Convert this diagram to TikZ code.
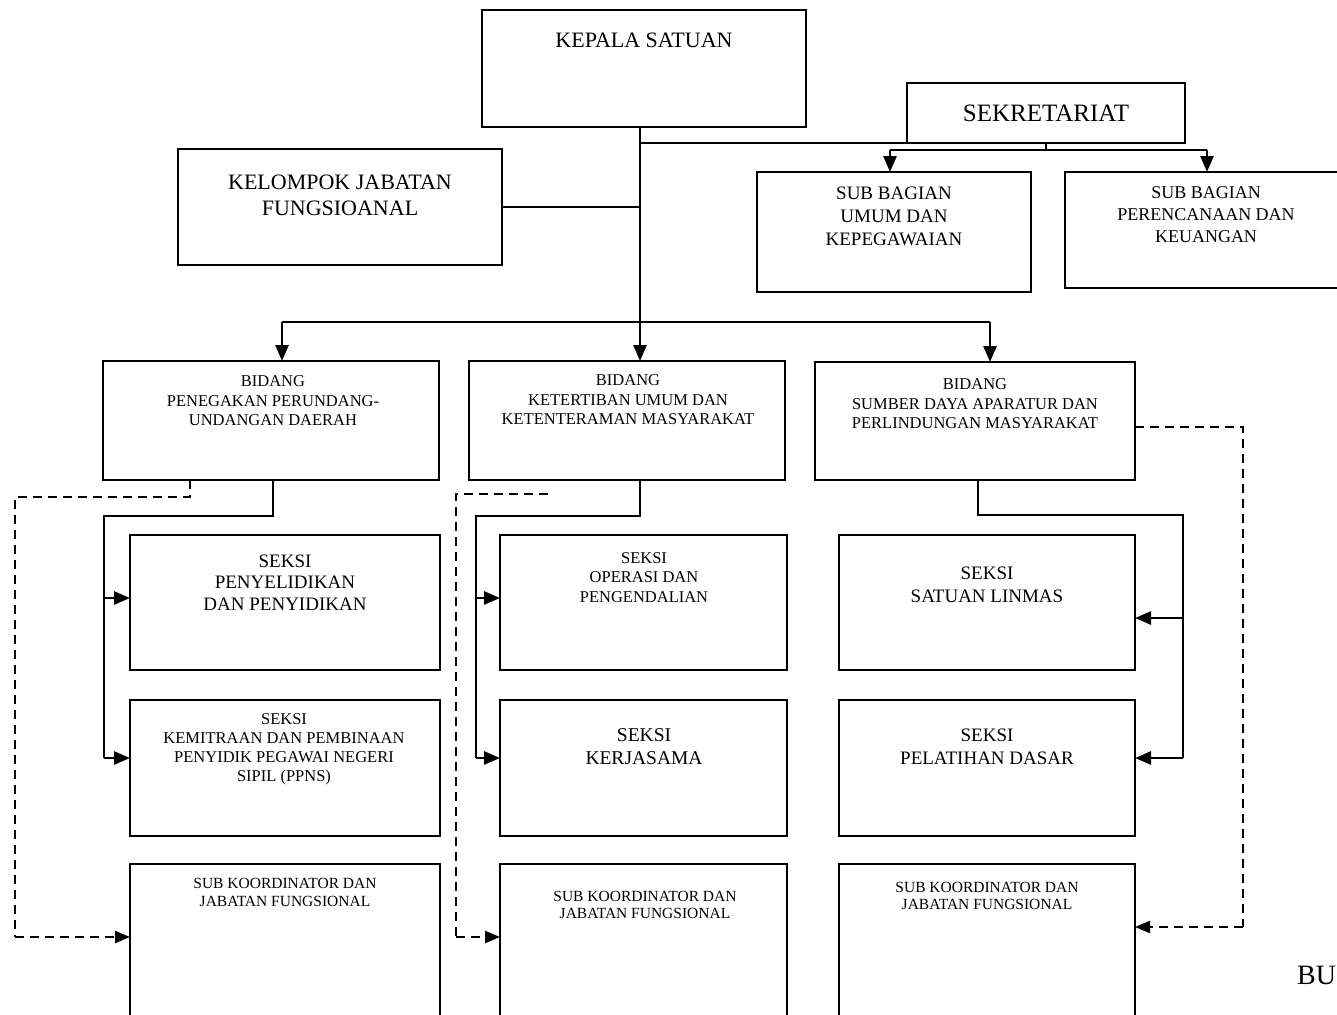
\documentclass[tikz,border=0pt]{standalone}
\usepackage{fontspec}
\setmainfont{Liberation Serif}
\usetikzlibrary{arrows.meta}
\newcommand\fsz[2]{\fontsize{#1}{#2}\selectfont}
\tikzset{
  box/.style={draw, line width=2.4pt, inner sep=0pt, outer sep=0pt},
  lbl/.style={align=center, inner sep=0pt},
  link/.style={line width=2.8pt},
  arr/.style={link, -{Triangle[length=16pt,width=13pt]}},
  dlink/.style={line width=2.4pt, dash pattern=on 9pt off 6pt},
  darr/.style={dlink, -{Triangle[length=15pt,width=12pt]}},
}
\begin{document}
\begin{tikzpicture}[x=1pt, y=-1pt]
\useasboundingbox (0,0) rectangle (1337,1014);

% ---- boxes ----
\node[box, minimum width=324pt, minimum height=117pt] (kepala)   at (644,68.5) {};
\node[box, minimum width=278pt, minimum height=60pt]  (sekr)     at (1046,113) {};
\node[box, minimum width=324pt, minimum height=116pt] (kelompok) at (340,207) {};
\node[box, minimum width=274pt, minimum height=120pt] (subumum)  at (894,232) {};
\node[box, minimum width=285pt, minimum height=116pt] (subren)   at (1207.5,230) {};

\node[box, minimum width=336pt, minimum height=119pt] (b1) at (271,420.5) {};
\node[box, minimum width=316pt, minimum height=119pt] (b2) at (627,420.5) {};
\node[box, minimum width=320pt, minimum height=118pt] (b3) at (975,421) {};

\node[box, minimum width=310pt, minimum height=135pt] (c1s1) at (285,602.5) {};
\node[box, minimum width=310pt, minimum height=136pt] (c1s2) at (285,768) {};
\node[box, minimum width=310pt, minimum height=170pt] (c1s3) at (285,949) {};

\node[box, minimum width=287pt, minimum height=135pt] (c2s1) at (643.5,602.5) {};
\node[box, minimum width=287pt, minimum height=136pt] (c2s2) at (643.5,768) {};
\node[box, minimum width=287pt, minimum height=170pt] (c2s3) at (643.5,949) {};

\node[box, minimum width=296pt, minimum height=135pt] (c3s1) at (987,602.5) {};
\node[box, minimum width=296pt, minimum height=136pt] (c3s2) at (987,768) {};
\node[box, minimum width=296pt, minimum height=170pt] (c3s3) at (987,949) {};

% ---- labels ----
\node[lbl, font=\fsz{22}{26}] (kepala-t) at (644,40) {KEPALA SATUAN};
\node[lbl, font=\fsz{25}{29}] (sekr-t) at (1046,113) {SEKRETARIAT};
\node[lbl, font=\fsz{22}{26}] (kelompok-t) at (340,195) {KELOMPOK JABATAN\\FUNGSIOANAL};
\node[lbl, font=\fsz{19}{23}] (subumum-t) at (894,216) {SUB BAGIAN\\UMUM DAN\\KEPEGAWAIAN};
\node[lbl, font=\fsz{18}{22}] (subren-t) at (1206,215) {SUB BAGIAN\\PERENCANAAN DAN\\KEUANGAN};

\node[lbl, font=\fsz{16.5}{19.5}] (b1-t) at (273,401) {BIDANG\\PENEGAKAN PERUNDANG-\\UNDANGAN DAERAH};
\node[lbl, font=\fsz{16.5}{19.5}] (b2-t) at (628,400) {BIDANG\\KETERTIBAN UMUM DAN\\KETENTERAMAN MASYARAKAT};
\node[lbl, font=\fsz{16.5}{19.5}] (b3-t) at (975,404) {BIDANG\\SUMBER DAYA APARATUR DAN\\PERLINDUNGAN MASYARAKAT};

\node[lbl, font=\fsz{19}{21.5}] (c1s1-t) at (285,582.5) {SEKSI\\PENYELIDIKAN\\DAN PENYIDIKAN};
\node[lbl, font=\fsz{16.5}{19}] (c1s2-t) at (284,749) {SEKSI\\KEMITRAAN DAN PEMBINAAN\\PENYIDIK PEGAWAI NEGERI\\SIPIL (PPNS)};
\node[lbl, font=\fsz{15.5}{17.5}] (c1s3-t) at (285,892.5) {SUB KOORDINATOR DAN\\JABATAN FUNGSIONAL};

\node[lbl, font=\fsz{16.5}{19.5}] (c2s1-t) at (644,577.5) {SEKSI\\OPERASI DAN\\PENGENDALIAN};
\node[lbl, font=\fsz{19.5}{23}] (c2s2-t) at (644,746.5) {SEKSI\\KERJASAMA};
\node[lbl, font=\fsz{15.5}{17.5}] (c2s3-t) at (645,905) {SUB KOORDINATOR DAN\\JABATAN FUNGSIONAL};

\node[lbl, font=\fsz{19}{23}] (c3s1-t) at (987,584.5) {SEKSI\\SATUAN LINMAS};
\node[lbl, font=\fsz{19}{23}] (c3s2-t) at (987,746.5) {SEKSI\\PELATIHAN DASAR};
\node[lbl, font=\fsz{15.5}{17.5}] (c3s3-t) at (987,896) {SUB KOORDINATOR DAN\\JABATAN FUNGSIONAL};

\node[lbl, anchor=west, font=\fsz{28}{32}] (bu-t) at (1297,975) {BU};

% ---- junction points ----
\coordinate (trunk) at (640,322);
\coordinate (sekrJ) at (640,143);
\coordinate (sbL) at (890,150);
\coordinate (sbR) at (1207,150);
\coordinate (busL) at (282,322);
\coordinate (busR) at (990,322);

\coordinate (p1) at (273,516);
\coordinate (q1) at (104,516);
\coordinate (a11) at (104,598);
\coordinate (a12) at (104,758);
\coordinate (d1) at (190,497);
\coordinate (e1) at (15,497);
\coordinate (f1) at (15,937);

\coordinate (p2) at (640,516);
\coordinate (q2) at (476,516);
\coordinate (a21) at (476,598);
\coordinate (a22) at (476,758);
\coordinate (d2) at (548,494);
\coordinate (e2) at (456,494);
\coordinate (f2) at (456,937);

\coordinate (p3) at (978,515);
\coordinate (q3) at (1183,515);
\coordinate (a31) at (1183,618);
\coordinate (a32) at (1183,758);
\coordinate (d3) at (1243,427);
\coordinate (f3) at (1243,927);

% ---- top level ----
\draw[arr] (kepala.south -| trunk) -- (trunk |- b2.north);
\draw[link] (sekrJ) -- (sekr.south west);
\draw[link] (sekr.south) -- (sekr.south |- sbL);
\draw[link] (sbL) -- (sbR);
\draw[arr] (sbL) -- (sbL |- subumum.north);
\draw[arr] (sbR) -- (sbR |- subren.north);
\draw[link] (kelompok.east) -- (kelompok.east -| trunk);

\draw[link] (busL) -- (busR);
\draw[arr] (busL) -- (busL |- b1.north);
\draw[arr] (busR) -- (busR |- b3.north);

% ---- left column ----
\draw[link] (p1 |- b1.south) -- (p1) -- (q1) -- (a12);
\draw[arr] (a11) -- (a11 -| c1s1.west);
\draw[arr] (a12) -- (a12 -| c1s2.west);
\draw[dlink] (d1 |- b1.south) -- (d1) -- (e1) -- (f1);
\draw[darr] (f1) -- (f1 -| c1s3.west);

% ---- middle column ----
\draw[link] (p2 |- b2.south) -- (p2) -- (q2) -- (a22);
\draw[arr] (a21) -- (a21 -| c2s1.west);
\draw[arr] (a22) -- (a22 -| c2s2.west);
\draw[dlink] (d2) -- (e2) -- (f2);
\draw[darr] (f2) -- (f2 -| c2s3.west);

% ---- right column ----
\draw[link] (p3 |- b3.south) -- (p3) -- (q3) -- (a32);
\draw[arr] (a31) -- (a31 -| c3s1.east);
\draw[arr] (a32) -- (a32 -| c3s2.east);
\draw[dlink] (d3 -| b3.east) -- (d3) -- (f3);
\draw[darr] (f3) -- (f3 -| c3s3.east);
\end{tikzpicture}
\end{document}
